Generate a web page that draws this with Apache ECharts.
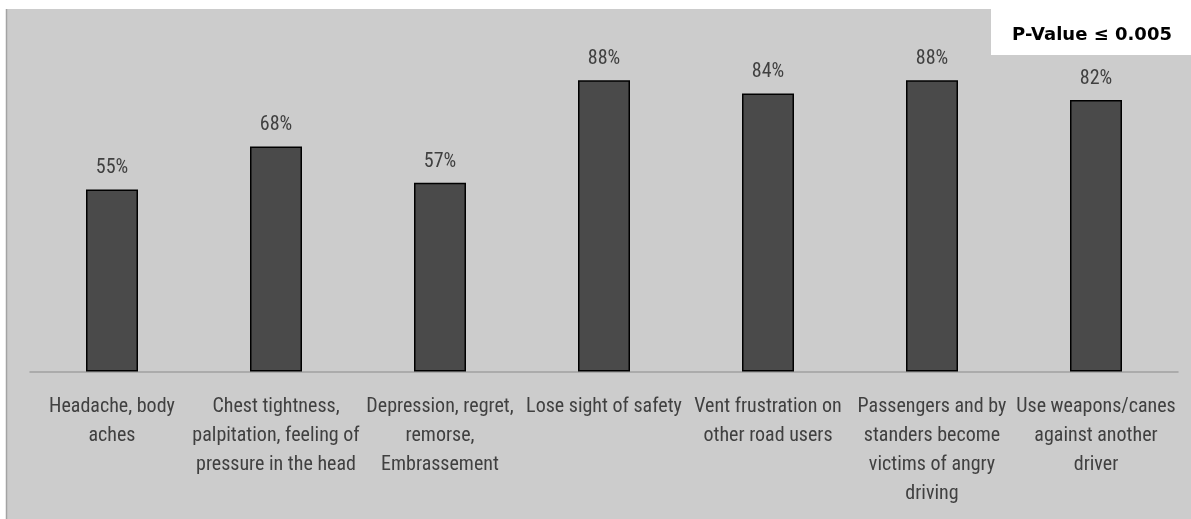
<!DOCTYPE html>
<html>
<head>
<meta charset="utf-8">
<style>
  html, body { margin: 0; padding: 0; background: #ffffff; }
  #chart { width: 1191px; height: 519px; }
</style>
<script src="https://cdn.jsdelivr.net/npm/echarts@6/dist/echarts.min.js"></script>
</head>
<body>
<div id="chart"></div>
<script>
// Reported physical / behavioural effects of angry driving (% of respondents)
const categories = [
  'Headache, body\naches',
  'Chest tightness,\npalpitation, feeling of\npressure in the head',
  'Depression, regret,\nremorse,\nEmbrassement',
  'Lose sight of safety',
  'Vent frustration on\nother road users',
  'Passengers and by\nstanders become\nvictims of angry\ndriving',
  'Use weapons/canes\nagainst another\ndriver'
];
const percentages = [55, 68, 57, 88, 84, 88, 82];
const note = 'P-Value \u2264 0.005';

const textFont = '"Roboto Condensed", "Liberation Sans Narrow", sans-serif';

const chart = echarts.init(document.getElementById('chart'), null, { renderer: 'canvas' });

chart.setOption({
  backgroundColor: '#ffffff',
  animation: false,
  graphic: [
    // chart area panel with a thin left edge
    { type: 'rect', z: -10, shape: { x: 6, y: 9, width: 1185, height: 510 },
      style: { fill: '#cccccc' } },
    { type: 'line', z: -9, shape: { x1: 6.5, y1: 9, x2: 6.5, y2: 519 },
      style: { stroke: '#a3a3a3', lineWidth: 1.5 } },
    // significance note box
    { type: 'rect', z: 10, shape: { x: 991, y: 0, width: 200, height: 55 },
      style: { fill: '#ffffff' } },
    { type: 'text', z: 11, x: 1092, y: 35,
      style: { text: note, fill: '#000000', font: 'bold 18px "DejaVu Sans", sans-serif',
               align: 'center', verticalAlign: 'middle' } }
  ],
  grid: { left: 30, right: 13, top: 40.5, bottom: 147.5, containLabel: false },
  xAxis: {
    type: 'category',
    data: categories,
    axisLine: { show: true, lineStyle: { color: '#a0a0a0', width: 1.5 } },
    axisTick: { show: false },
    axisLabel: {
      interval: 0,
      margin: 21,
      color: '#404040',
      fontFamily: textFont,
      fontSize: 20,
      lineHeight: 29,
      align: 'center'
    }
  },
  yAxis: {
    type: 'value',
    min: 0,
    max: 100,
    show: false,
    splitLine: { show: false }
  },
  series: [{
    type: 'bar',
    data: percentages,
    barWidth: 52,
    itemStyle: { color: '#4a4a4a', borderColor: '#000000', borderWidth: 1.5 },
    label: {
      show: true,
      position: 'top',
      distance: 11,
      formatter: p => p.value + '%',
      color: '#404040',
      fontFamily: textFont,
      fontSize: 20
    }
  }]
});
</script>
</body>
</html>
